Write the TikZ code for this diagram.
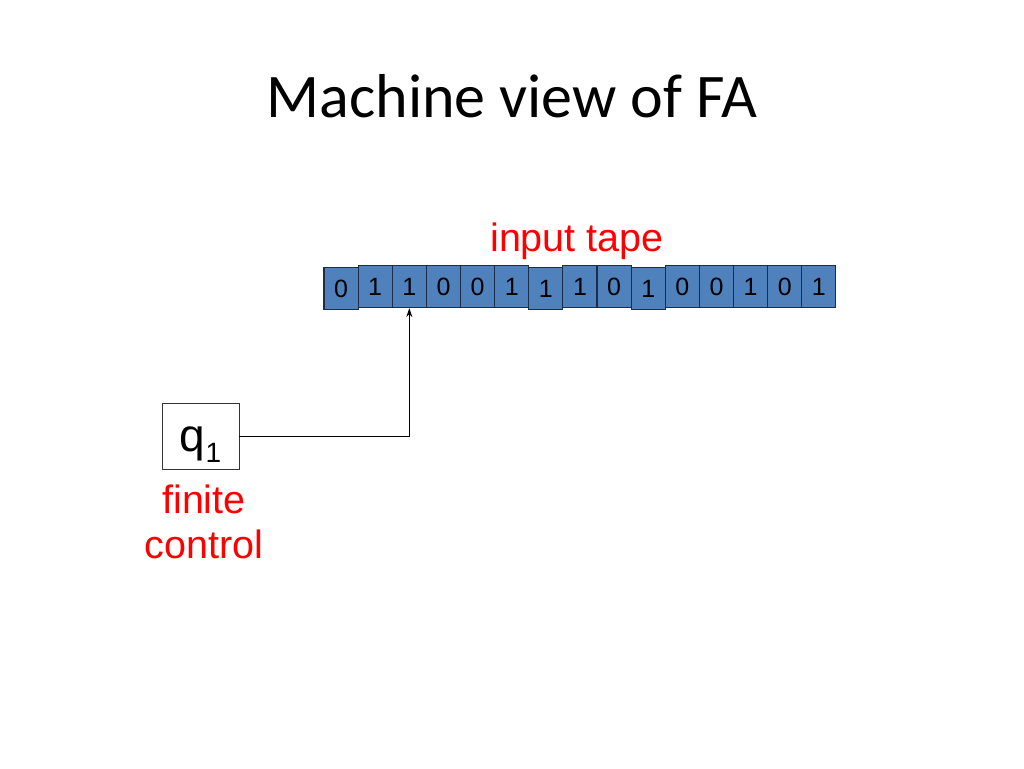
\documentclass[tikz,border=0pt]{standalone}
\usepackage{fontspec}
\setmainfont{Liberation Sans}
\newfontfamily\titlefont{Carlito}
\usetikzlibrary{arrows.meta}
\definecolor{cellfill}{RGB}{79,129,189}
\definecolor{celldraw}{RGB}{28,45,72}
\definecolor{labelred}{RGB}{255,0,0}
\begin{document}
\begin{tikzpicture}[x=1pt,y=-1pt,
  cell/.style={draw=celldraw, line width=1.1pt, fill=cellfill, minimum width=34.1pt, minimum height=42pt, inner sep=0pt, font=\fontsize{25}{25}\selectfont, text=black},
  redlabel/.style={text=labelred, font=\fontsize{39.5}{45}\selectfont, align=center, inner sep=0pt},
  ctrlbox/.style={draw=black!80, line width=0.9pt, minimum width=77pt, minimum height=66pt, inner sep=0pt, text height=30pt, text depth=0pt},
  conn/.style={draw=black, line width=0.9pt}
]
\useasboundingbox (0,0) rectangle (1024,768);
\node[anchor=base, inner sep=0pt, font=\titlefont\fontsize{62}{62}\selectfont] (title) at (512,117) {Machine view of FA};
\node[redlabel, anchor=base] (tapelabel) at (577,251) {input tape};
% tape cells
\foreach \d [count=\i from 0] in {0,1,1,0,0,1,1,1,0,1,0,0,1,0,1} {
  \pgfmathsetmacro{\cx}{324+34.13*(\i+0.5)}
  \ifnum\i=0 \def\cy{288.5}\else\ifnum\i=6 \def\cy{288.5}\else\ifnum\i=9 \def\cy{288.5}\else\def\cy{286.5}\fi\fi\fi
  \node[cell] (c\i) at (\cx,\cy) {\d};
}
\node[ctrlbox, font=\fontsize{46}{46}\selectfont] (q) at (200.5,436) {q\raisebox{-11pt}{\fontsize{28}{28}\selectfont 1}};
\node[redlabel, anchor=base] (fc) at (204,558) {finite\\control};
\draw[conn, -{Stealth[length=9pt,width=6pt]}] (q.east) -| (c2.south);
\end{tikzpicture}
\end{document}
